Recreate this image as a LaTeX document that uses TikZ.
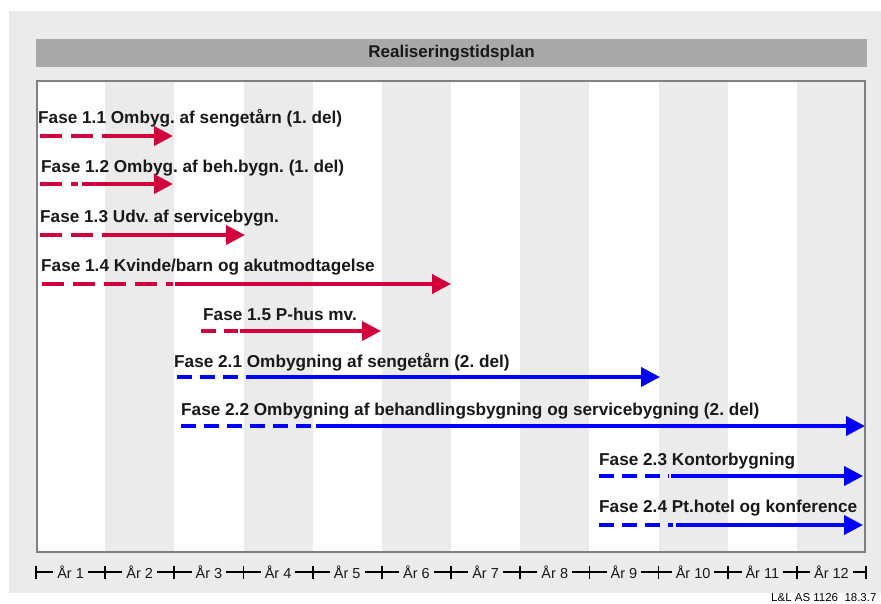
\documentclass[tikz,border=0pt]{standalone}
\usepackage{fontspec}
\setmainfont{Liberation Sans}
\usetikzlibrary{arrows.meta}
\frenchspacing
\definecolor{bggray}{RGB}{235,235,235}
\definecolor{titlegray}{RGB}{169,169,169}
\definecolor{framegray}{RGB}{128,128,128}
\definecolor{fred}{RGB}{210,0,60}
\definecolor{fblue}{RGB}{0,0,255}
\tikzset{
  lab/.style={font=\bfseries\fontsize{17.2}{20}\selectfont, anchor=base west, inner sep=0pt, text=black!90},
  titlelab/.style={font=\bfseries\fontsize{17}{20}\selectfont, inner sep=0pt, text=black!90},
  axlab/.style={font=\fontsize{14.5}{17}\selectfont, fill=bggray, inner xsep=4pt, inner ysep=1pt, text=black!90},
  redline/.style={draw=fred, line width=4pt},
  blueline/.style={draw=fblue, line width=4pt},
  longdashes/.style={dash pattern=on 22pt off 9pt},
  shortdashes/.style={dash pattern=on 15pt off 8pt},
  tipped/.style={-{Triangle[length=19pt,width=19pt]}},
}
\begin{document}
\frenchspacing
\begin{tikzpicture}[x=1pt,y=-1pt]
\useasboundingbox (0,0) rectangle (881,603);
% background
\fill[bggray] (9,11) rectangle (881,593);
% title bar
\fill[titlegray] (36,39) rectangle (867,67);
\node[titlelab] (title) at (451.5,53) {Realiseringstidsplan};
% frame with stripes
\fill[white] (37,81) rectangle (865,552);
\foreach \i in {1,3,...,11}
  \fill[bggray] ({36+69.17*\i},81) rectangle ({36+69.17*(\i+1)},552);
\draw[framegray, line width=2.5pt] (37.2,81.2) rectangle (864.8,551.8);
% axis
\coordinate (ax0) at (36,572);
\coordinate (ax1) at (866,572);
\draw[line width=1.7pt] (ax0) -- (ax1);
\foreach \i in {0,...,12}
  \draw[line width=1.7pt] ({36+69.17*\i},565.5) -- ({36+69.17*\i},578.5);
\foreach \i in {1,...,12}
  \node[axlab] (yr\i) at ({36+69.17*(\i-0.5)},572) {År \i};
% footer
\node[font=\fontsize{11.5}{13}\selectfont, anchor=base west, inner sep=0pt] (foot) at (771,601.5) {L\&L AS 1126\ \ 18.3.7};

% Fase 1.1
\node[lab] (l11) at (38,123) {Fase 1.1 Ombyg. af sengetårn (1. del)};
\coordinate (s11) at (40,136); \coordinate (m11) at (103,136); \coordinate (t11) at (173,136);
\draw[redline, longdashes] (s11) -- (m11);
\draw[redline, tipped] (m11) -- (t11);
% Fase 1.2
\node[lab] (l12) at (41,172) {Fase 1.2 Ombyg. af beh.bygn. (1. del)};
\coordinate (s12) at (40,184); \coordinate (d12) at (78,184); \coordinate (m12) at (82,184); \coordinate (t12) at (173,184);
\draw[redline, longdashes] (s12) -- (d12);
\draw[redline, tipped] (m12) -- (t12);
% Fase 1.3
\node[lab] (l13) at (40,222) {Fase 1.3 Udv. af servicebygn.};
\coordinate (s13) at (40,235); \coordinate (m13) at (103,235); \coordinate (t13) at (245,235);
\draw[redline, longdashes] (s13) -- (m13);
\draw[redline, tipped] (m13) -- (t13);
% Fase 1.4
\node[lab] (l14) at (41,271) {Fase 1.4 Kvinde/barn og akutmodtagelse};
\coordinate (s14) at (42,284); \coordinate (d14) at (173,284); \coordinate (m14) at (175,284); \coordinate (t14) at (451,284);
\draw[redline, longdashes] (s14) -- (d14);
\draw[redline, tipped] (m14) -- (t14);
% Fase 1.5
\node[lab] (l15) at (203,320) {Fase 1.5 P-hus mv.};
\coordinate (s15) at (201,331); \coordinate (d15) at (238,331); \coordinate (m15) at (240,331); \coordinate (t15) at (381,331);
\draw[redline, shortdashes] (s15) -- (d15);
\draw[redline, tipped] (m15) -- (t15);
% Fase 2.1
\node[lab] (l21) at (174,367) {Fase 2.1 Ombygning af sengetårn (2. del)};
\coordinate (s21) at (177,377); \coordinate (d21) at (244,377); \coordinate (m21) at (246,377); \coordinate (t21) at (660,377);
\draw[blueline, shortdashes] (s21) -- (d21);
\draw[blueline, tipped] (m21) -- (t21);
% Fase 2.2
\node[lab] (l22) at (181,415) {Fase 2.2 Ombygning af behandlingsbygning og servicebygning (2. del)};
\coordinate (s22) at (181,426); \coordinate (d22) at (313,426); \coordinate (m22) at (316,426); \coordinate (t22) at (865,426);
\draw[blueline, shortdashes] (s22) -- (d22);
\draw[blueline, tipped] (m22) -- (t22);
% Fase 2.3
\node[lab] (l23) at (599,465) {Fase 2.3 Kontorbygning};
\coordinate (s23) at (599,476); \coordinate (d23) at (669,476); \coordinate (m23) at (671,476); \coordinate (t23) at (863,476);
\draw[blueline, shortdashes] (s23) -- (d23);
\draw[blueline, tipped] (m23) -- (t23);
% Fase 2.4
\node[lab] (l24) at (599,512) {Fase 2.4 Pt.hotel og konference};
\coordinate (s24) at (599,525); \coordinate (d24) at (673,525); \coordinate (m24) at (676,525); \coordinate (t24) at (863,525);
\draw[blueline, shortdashes] (s24) -- (d24);
\draw[blueline, tipped] (m24) -- (t24);
\end{tikzpicture}
\end{document}
